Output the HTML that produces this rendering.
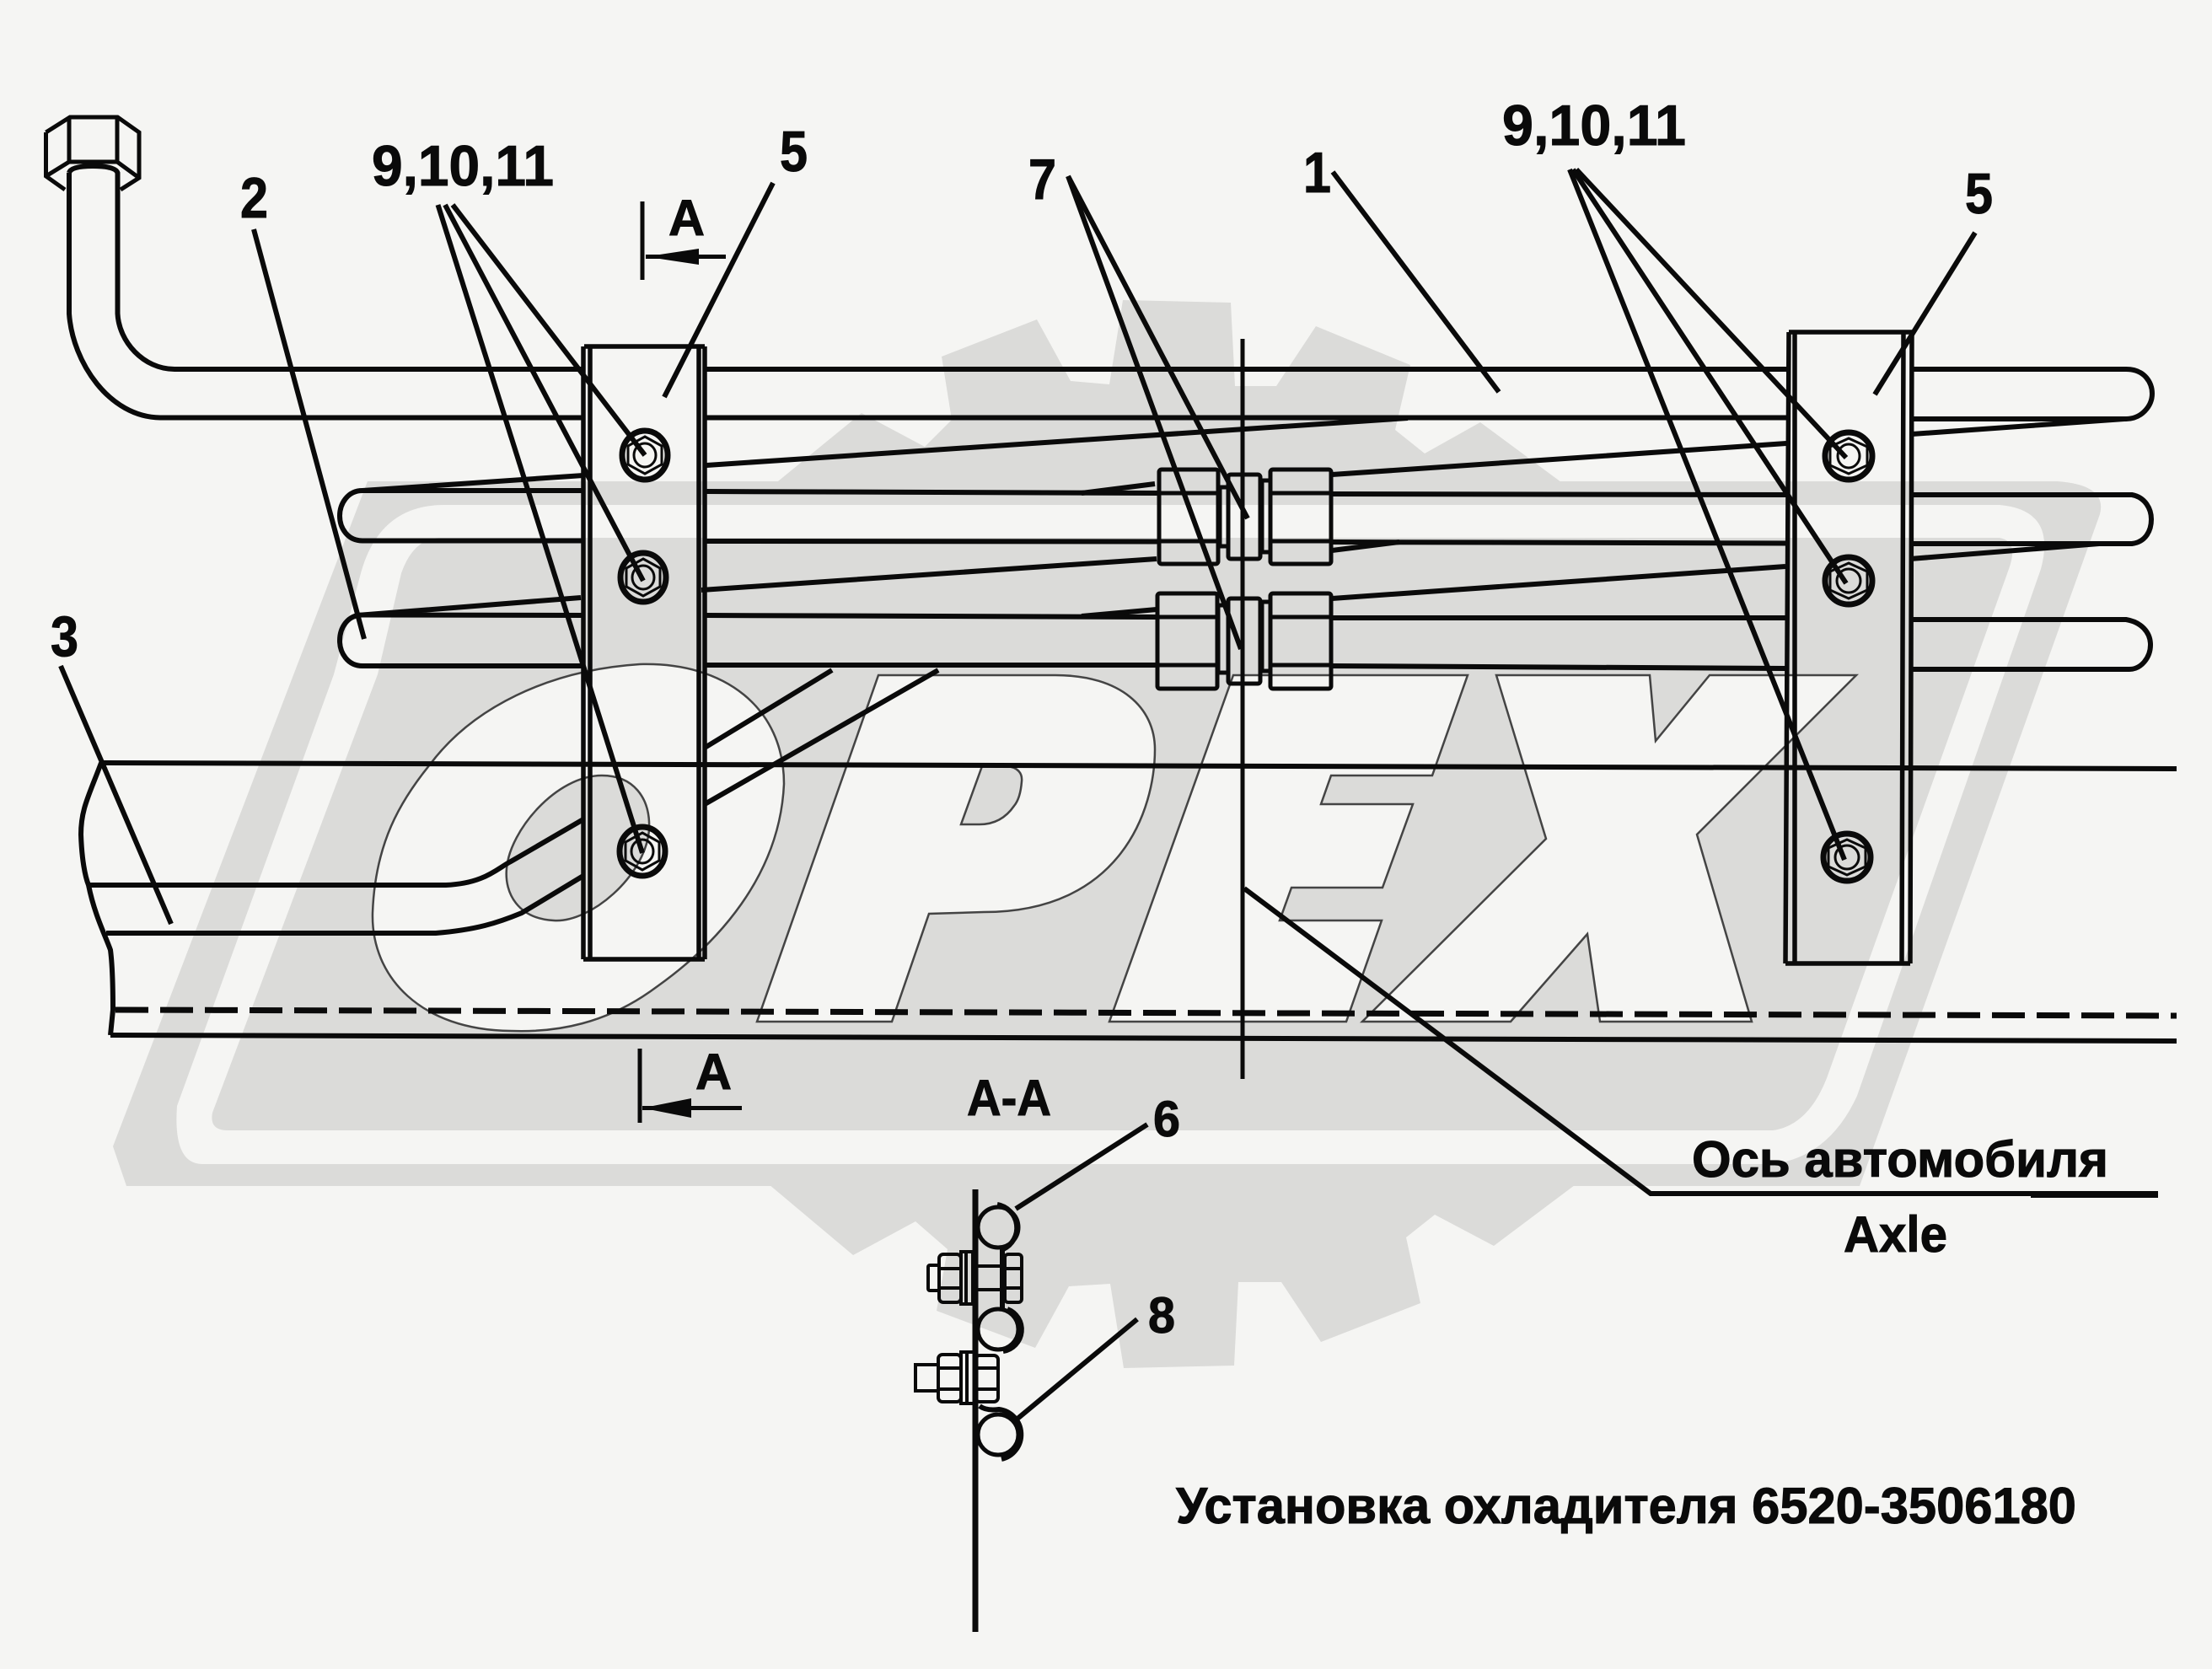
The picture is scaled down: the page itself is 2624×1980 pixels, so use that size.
<!DOCTYPE html>
<html>
<head>
<meta charset="utf-8">
<style>
html,body{margin:0;padding:0;background:#f5f5f3;}
svg{display:block;}
text{font-family:"Liberation Sans",sans-serif;font-weight:bold;fill:#0a0a0a;stroke:#0a0a0a;stroke-width:1;}
.n{font-size:68px;}
.a{font-size:60px;}
.t{font-size:60px;}
.i{stroke:#0a0a0a;fill:none;}
</style>
</head>
<body>
<svg width="2624" height="1980" viewBox="0 0 2624 1980" xmlns="http://www.w3.org/2000/svg">
<rect width="2624" height="1980" fill="#f5f5f3"/>
<!-- watermark gear + frame -->
<g fill="#dbdbd9">
<polygon points="918,575 1022,490 1097,530 1129,498 1117,423 1230,379 1270,452 1316,456 1332,356 1460,359 1465,458 1514,458 1561,387 1673,433 1655,510 1690,538 1756,501 1856,575"/>
<polygon points="906,1400 1012,1489 1086,1449 1124,1482 1111,1555 1228,1599 1268,1526 1317,1523 1333,1623 1464,1620 1469,1521 1520,1521 1567,1592 1685,1546 1668,1468 1702,1441 1772,1478 1876,1400"/>
<path d="M436,571 L2440,571 Q2500,575 2491,610 L2206,1407 L150,1407 L134,1360 Z"/>
</g>
<path fill="#f5f5f3" d="M525,599 L2372,599 Q2440,605 2421,675 L2203,1300 Q2170,1372 2103,1381 L240,1381 Q205,1381 210,1312 L396,800 L428,680 Q450,600 525,599 Z"/>
<path fill="#dbdbd9" d="M520,638 L2372,638 Q2395,642 2383,675 L2167,1279 Q2145,1335 2103,1341 L270,1341 Q248,1341 252,1320 L448,800 L476,680 Q490,640 520,638 Z"/>
<!-- PEX letters & oval -->
<g fill="#f5f5f3" stroke="#444" stroke-width="2.5">
<path d="M759,788 C860,785 930,840 930,930 C925,1040 850,1120 780,1170 C720,1215 660,1225 606,1223 C500,1222 440,1160 442,1083 C445,1000 475,950 510,907 C560,840 650,795 759,788 Z"/>
<path d="M1042,801 L1252,801 C1330,801 1370,840 1370,889 C1370,960 1330,1082 1167,1082 L1102,1084 L1058,1212 L898,1212 Z"/>
<path d="M1463,801 L1741,801 L1699,920 L1579,920 L1567,954 L1676,954 L1640,1053 L1532,1053 L1518,1092 L1639,1092 L1597,1212 L1316,1212 Z"/>
<path d="M1775,801 L1957,801 L1964,879 L2028,801 L2202,801 L2013,990 L2078,1212 L1898,1212 L1883,1108 L1792,1212 L1616,1212 L1834,995 Z"/>
</g>
<g fill="#dbdbd9" stroke="#444" stroke-width="2.5">
<path d="M1165,909 L1194,909 C1208,910 1213,918 1212,927 C1211,940 1208,950 1203,956 C1192,972 1178,978 1162,978 L1140,978 Z"/>
<path d="M714,920 C750,920 772,945 770,985 C765,1040 700,1095 657,1092 C615,1090 598,1060 601,1030 C605,985 660,920 714,920 Z"/>
</g>

<!-- tube with nut -->
<g class="i" stroke-width="5">
<path d="M54.5,157 L83,139 L139.5,139 L165,157 L165,211 L143,225 M77,225 L54.5,209 L54.5,157"/>
<path d="M82,139 V192 H139 V139 M82,192 L54.5,209 M139,192 L165,211"/>
</g>
<g class="i" stroke-width="6">
<path d="M82,205 Q84,197 110,197 Q137,197 139.5,205 V372 C141,405 170,438 207,438 H693"/>
<path d="M82,205 V372 C86,430 130,495 190,495.5 H693"/>
<path d="M837,438 H2122 M837,495.5 H2122"/>
<path d="M2268,438 H2522 C2545,438 2553,455 2553,467 C2553,482 2540,497 2522,497 H2268"/>
<!-- row 2 -->
<path d="M692,582 H430 C412,582 403,598 403,612 C403,626 412,641.5 430,641.5 H692"/>
<path d="M837,583 L1375,585 M837,642 L1375,642.5 M1579,586 L2120,587 M1579,643 L2120,644.5"/>
<path d="M2268,587 H2529 C2545,590 2552,604 2552,616 C2552,630 2545,643 2529,645 H2268"/>
<!-- row 3 -->
<path d="M692,730 L430,729.5 C412,729.5 403,745 403,760 C403,774 412,790 430,790 H692"/>
<path d="M837,730 L1373,732 M837,789 H1373 M1579,733 L2120,733 M1579,790 L2120,793"/>
<path d="M2266,735 H2522 C2540,738 2551,750 2551,765 C2551,780 2540,794 2526,794 H2266"/>
<!-- slanted return lines -->
<path d="M430,582 L692,564 M838,552 L1670,496"/>
<path d="M430,729.5 L689,709 M832,700 L1372,663 M1580,653 L1660,643"/>
<path d="M1283,585 L1370,574 M1580,563 L2119,526 M2268,515 L2520,497"/>
<path d="M1283,731 L1372,723 M1580,710 L2118,672 M2266,663 L2490,645"/>
<!-- lower frame -->
<path d="M120,905 L2582,912"/>
<path d="M131,1228 L2582,1235"/>
<path d="M120,905 C105,945 96,960 96,990 C97,1020 101,1040 105,1050 C112,1085 125,1110 131,1127 C134,1150 134,1180 134,1198 L131,1228"/>
<path d="M105,1050 H529 C575,1048 590,1030 606,1022 L692,972"/>
<path d="M126,1107 H517 C565,1103 590,1095 619,1083 L692,1039"/>
<path d="M836,887 L987,795 M836,954 L1113,795"/>
</g>
<line x1="137" y1="1198" x2="2582" y2="1205" stroke="#0a0a0a" stroke-width="7" stroke-dasharray="39 14"/>

<!-- brackets -->
<g class="i" stroke-width="5.5">
<path d="M693,411 H836 M692,411 V1138 M700,411 V1138 M829,411 V1138 M836,411 V1138 M692,1138 H836"/>
<path d="M2122,394 H2268 M2122,394 L2118,1143 M2129,394 V1143 M2258,394 L2256,1143 M2268,394 L2266,1143 M2118,1143 H2266"/>
</g>
<!-- bolts -->
<g class="i">
<g stroke-width="7">
<ellipse cx="765" cy="540" rx="27" ry="29"/><ellipse cx="763" cy="685" rx="27" ry="29"/><ellipse cx="762" cy="1010" rx="27" ry="29"/>
<ellipse cx="2193" cy="541" rx="28" ry="28"/><ellipse cx="2193" cy="689" rx="28" ry="28"/><ellipse cx="2191" cy="1017" rx="28" ry="28"/>
</g>
<g stroke-width="3">
<ellipse cx="765" cy="540" rx="13" ry="14"/><ellipse cx="763" cy="685" rx="13" ry="14"/><ellipse cx="762" cy="1010" rx="13" ry="14"/>
<ellipse cx="2193" cy="541" rx="13" ry="14"/><ellipse cx="2193" cy="689" rx="14" ry="14"/><ellipse cx="2191" cy="1017" rx="14" ry="14"/>
<polygon points="765,518 785,529 785,551 765,562 745,551 745,529"/>
<polygon points="763,663 783,674 783,696 763,707 743,696 743,674"/>
<polygon points="762,988 782,999 782,1021 762,1032 742,1021 742,999"/>
<polygon points="2193,520 2215,530 2215,552 2193,562 2171,552 2171,530"/>
<polygon points="2193,668 2215,678 2215,700 2193,710 2171,700 2171,678"/>
<polygon points="2191,996 2213,1006 2213,1028 2191,1038 2169,1028 2169,1006"/>
</g>
</g>

<!-- couplings -->
<g class="i" stroke-width="5">
<rect x="1375" y="557" width="70" height="112" rx="3"/>
<rect x="1507" y="557" width="72" height="112" rx="3"/>
<rect x="1447" y="578" width="10" height="70"/>
<rect x="1497" y="570" width="10" height="85"/>
<rect x="1457" y="563" width="38" height="100" rx="3"/>
<rect x="1373" y="704" width="71" height="113" rx="3"/>
<rect x="1507" y="704" width="72" height="113" rx="3"/>
<rect x="1445" y="718" width="12" height="80"/>
<rect x="1497" y="714" width="10" height="82"/>
<rect x="1457" y="710" width="38" height="101" rx="3"/>
<path d="M1375,585 H1445 M1375,642 H1445 M1507,585 H1579 M1507,642 H1579 M1373,732 H1444 M1373,789 H1444 M1507,732 H1579 M1507,789 H1579"/>
</g>

<!-- centre axis -->
<line class="i" x1="1474" y1="402" x2="1474" y2="1280" stroke-width="5"/>
<polyline class="i" points="1476,1054 1958,1416 2409,1416" stroke-width="6"/>
<line class="i" x1="2409" y1="1417" x2="2560" y2="1417" stroke-width="8"/>

<!-- leaders -->
<g class="i" stroke-width="6">
<line x1="537" y1="243" x2="765" y2="540"/>
<line x1="528" y1="243" x2="763" y2="689"/>
<line x1="519.5" y1="243" x2="762" y2="1012"/>
<line x1="1870" y1="201" x2="2190" y2="543"/>
<line x1="1866" y1="201" x2="2190" y2="692"/>
<line x1="1862" y1="201" x2="2188" y2="1020"/>
<line x1="917" y1="217" x2="788" y2="471"/>
<line x1="2343" y1="276" x2="2224" y2="468"/>
<line x1="301" y1="272" x2="432" y2="758"/>
<line x1="72" y1="790" x2="203" y2="1096"/>
<line x1="1581" y1="204" x2="1778" y2="465"/>
<line x1="1267" y1="209" x2="1480" y2="615"/>
<line x1="1267" y1="209" x2="1472" y2="770"/>
<line x1="1361" y1="1334" x2="1205" y2="1434"/>
<line x1="1349" y1="1565" x2="1207" y2="1683"/>
</g>

<!-- section arrows -->
<g class="i" stroke-width="5">
<line x1="762" y1="239" x2="762" y2="332"/>
<line x1="766" y1="304.5" x2="861" y2="304.5"/>
<line x1="759" y1="1244" x2="759" y2="1332"/>
<line x1="762" y1="1314.5" x2="880" y2="1314.5"/>
</g>
<polygon points="766,304.5 829,295 829,314" fill="#0a0a0a"/>
<polygon points="762,1314.5 820,1303 820,1326" fill="#0a0a0a"/>

<!-- section view A-A -->
<g class="i">
<line x1="1157" y1="1411" x2="1157" y2="1936" stroke-width="7"/>
<g stroke-width="5">
<circle cx="1184" cy="1456" r="24"/><circle cx="1184" cy="1577" r="24"/><circle cx="1184" cy="1702" r="24"/>
</g>
<g stroke-width="4">
<path d="M1183,1429 A28,28 0 0 1 1190,1482" stroke-width="6"/>
<path d="M1195,1553 A26,26 0 0 1 1190,1603" stroke-width="6"/>
<path d="M1162,1668 Q1170,1674 1185,1672 A30,30 0 0 1 1188,1731" stroke-width="6"/>
<rect x="1101" y="1501" width="13" height="30" rx="2"/>
<rect x="1114" y="1488" width="26" height="57" rx="5"/>
<path d="M1114,1505 H1140 M1114,1528 H1140"/>
<rect x="1140" y="1485" width="14" height="62"/><line x1="1146" y1="1485" x2="1146" y2="1547"/>
<path d="M1157,1502 H1190 M1157,1530 H1190"/>
<rect x="1192" y="1488" width="20" height="57" rx="4"/>
<path d="M1192,1505 H1212 M1192,1528 H1212"/>
<line x1="1189" y1="1480" x2="1189" y2="1552" stroke-width="6"/>
<rect x="1086" y="1619" width="27" height="31"/>
<rect x="1113" y="1607" width="27" height="56" rx="5"/>
<path d="M1113,1623 H1140 M1113,1648 H1140"/>
<rect x="1140" y="1604" width="16" height="61"/><line x1="1147" y1="1604" x2="1147" y2="1665"/>
<rect x="1157" y="1608" width="27" height="55" rx="5"/>
<path d="M1157,1623 H1184 M1157,1648 H1184"/>
</g>
</g>

<!-- labels -->
<text class="n" x="441" y="220" textLength="216" lengthAdjust="spacingAndGlyphs">9,10,11</text>
<text class="n" x="1782" y="172" textLength="218" lengthAdjust="spacingAndGlyphs">9,10,11</text>
<text class="n" x="285" y="258" textLength="33" lengthAdjust="spacingAndGlyphs">2</text>
<text class="n" x="60" y="778" textLength="33" lengthAdjust="spacingAndGlyphs">3</text>
<text class="n" x="925" y="203" textLength="33" lengthAdjust="spacingAndGlyphs">5</text>
<text class="n" x="2331" y="253" textLength="33" lengthAdjust="spacingAndGlyphs">5</text>
<text class="n" x="1546" y="228" textLength="33" lengthAdjust="spacingAndGlyphs">1</text>
<text class="n" x="1220" y="236" textLength="33" lengthAdjust="spacingAndGlyphs">7</text>
<text class="a" x="793" y="279" textLength="43" lengthAdjust="spacingAndGlyphs">A</text>
<text class="a" x="825" y="1292" textLength="43" lengthAdjust="spacingAndGlyphs">A</text>
<text class="a" x="1147" y="1323" textLength="100" lengthAdjust="spacingAndGlyphs">A-A</text>
<text class="a" x="1368" y="1348" textLength="32" lengthAdjust="spacingAndGlyphs">6</text>
<text class="a" x="1362" y="1581" textLength="32" lengthAdjust="spacingAndGlyphs">8</text>
<text class="t" x="2007" y="1396" textLength="494" lengthAdjust="spacingAndGlyphs">Ось автомобиля</text>
<text class="t" x="2187" y="1485" textLength="123" lengthAdjust="spacingAndGlyphs">Axle</text>
<text class="t" x="1395" y="1807" textLength="1068" lengthAdjust="spacingAndGlyphs">Установка охладителя 6520-3506180</text>
</svg>
</body>
</html>
